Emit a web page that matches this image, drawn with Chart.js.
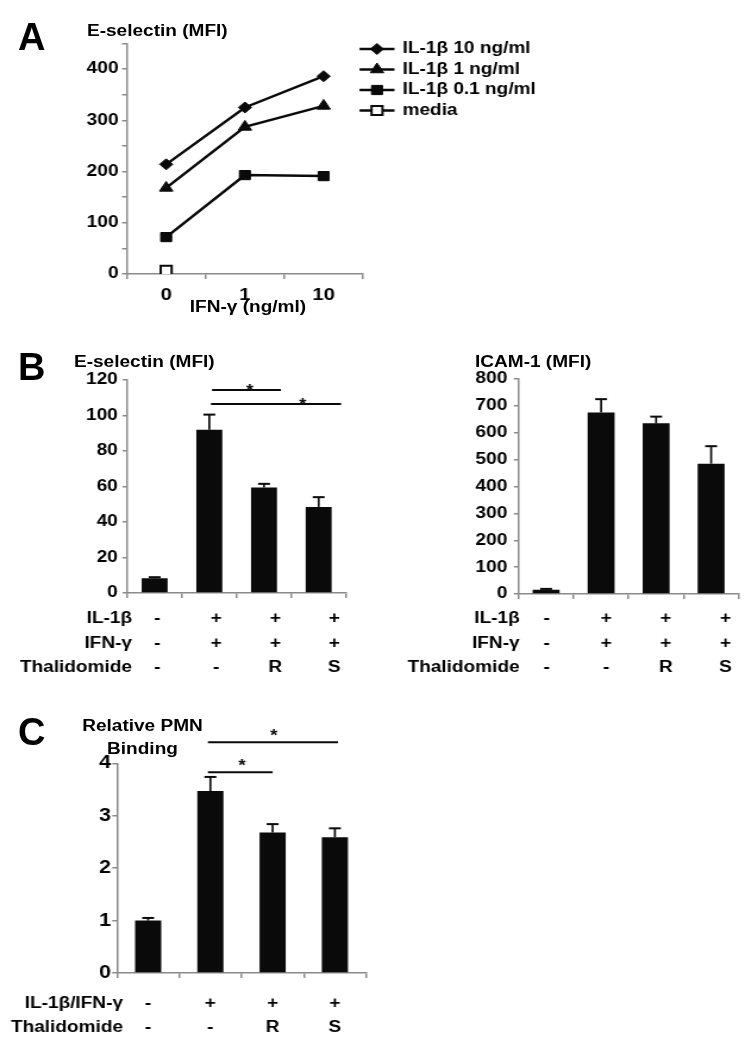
<!DOCTYPE html>
<html>
<head>
<meta charset="utf-8">
<title>E-selectin / ICAM-1 / PMN binding</title>
<script src="https://cdn.jsdelivr.net/npm/chart.js@4.4.1/dist/chart.umd.min.js"></script>
<style>
  html, body { margin: 0; padding: 0; background: #fff; }
  body { width: 751px; height: 1050px; position: relative; overflow: hidden;
         font-family: 'Liberation Sans', Arial, sans-serif; font-weight: bold; color: #000; }
  #stage { position: absolute; left: 0; top: 0; height: 1050px; transform-origin: 0 0; }
  #stage canvas { position: absolute; }
  .lbl { position: absolute; font-size: 16px; line-height: 16px; white-space: nowrap; }
  .panel { position: absolute; left: 18px; font-size: 38px; line-height: 38px; }
</style>
</head>
<body>
<div id="stage"></div>
<div class="panel" style="top:18px">A</div>
<div class="panel" style="top:348px">B</div>
<div class="panel" style="top:713px">C</div>
<script>
/* ---- data ---- */
const ifnDoses = ['0', '1', '10'];
const il1b10   = [214, 325, 386];
const il1b1    = [168, 287, 328];
const il1b01   = [72, 193, 191];
const mediaA   = [7, null, null];

const groups   = ['control', 'IL-1b+IFN-g', 'IL-1b+IFN-g+R', 'IL-1b+IFN-g+S'];
const eselMean = [8.3, 92, 59.5, 48.5];
const eselErr  = [0.6, 8.5, 2, 5.5];
const icamMean = [16, 675, 635, 485];
const icamErr  = [3, 50, 25, 65];
const pmnMean  = [1.0, 3.47, 2.68, 2.59];
const pmnErr   = [0.05, 0.27, 0.16, 0.17];

const rowIL1b  = ['-', '+', '+', '+'];
const rowIFNg  = ['-', '+', '+', '+'];
const rowCombo = ['-', '+', '+', '+'];
const rowThal  = ['-', '-', 'R', 'S'];

// significance brackets: [from group, to group, level, star at]
const eselSig = [[1.05, 2.31, 114.4, 1.74], [1.03, 3.41, 106.5, 2.71]];
const pmnSig  = [[0.96, 3.05, 4.4, 2.02], [0.96, 2.0, 3.83, 1.51]];

/* ---- setup ---- */
const S = 1.19;            // the original figure is stretched sideways
const AXIS = '#8a8a8a';
const INK = '#0a0a0a';

Chart.defaults.font.family = "'Liberation Sans', Arial, sans-serif";
Chart.defaults.font.size = 16;
Chart.defaults.font.weight = 'bold';
Chart.defaults.color = '#000';

const stage = document.getElementById('stage');
stage.style.width = (751 / S) + 'px';
stage.style.transform = 'scaleX(' + S + ')';

function addCanvas(left, top, width, height) {
  const c = document.createElement('canvas');
  c.width = Math.round(width / S);
  c.height = height;
  c.style.left = (left / S) + 'px';
  c.style.top = top + 'px';
  c.style.width = c.width + 'px';
  c.style.height = height + 'px';
  stage.appendChild(c);
  return c;
}

function addLabel(text, x, y, align) {
  const d = document.createElement('div');
  d.className = 'lbl';
  d.textContent = text;
  d.style.left = (x / S) + 'px';
  d.style.top = y + 'px';
  d.style.transform = align === 'center' ? 'translate(-50%,-50%)' : 'translateY(-50%)';
  stage.appendChild(d);
}

function yAxis(max, step, width, pad, size, cb) {
  const ax = {
    min: 0, max,
    border: { color: AXIS, width: 1.5 },
    grid: { drawOnChartArea: false, tickLength: 4, color: AXIS, lineWidth: 1.5 },
    ticks: { stepSize: step, padding: pad, font: { size } },
    afterFit: s => { s.width = width; }
  };
  if (cb) ax.ticks.callback = cb;
  return ax;
}

function xAxis(height, ticks) {
  return {
    offset: true,
    border: { color: AXIS, width: 1.5 },
    grid: { offset: true, drawOnChartArea: false, tickLength: 5, color: AXIS, lineWidth: 1.5 },
    ticks: ticks || { display: false },
    afterFit: s => { s.height = height; }
  };
}

const errorBars = errs => ({
  id: 'errorBars',
  afterDatasetsDraw(chart) {
    const { ctx, scales: { y } } = chart;
    const vals = chart.data.datasets[0].data;
    ctx.save();
    ctx.strokeStyle = INK;
    chart.getDatasetMeta(0).data.forEach((bar, i) => {
      const top = y.getPixelForValue(vals[i] + errs[i]);
      ctx.lineWidth = 1.7;
      ctx.beginPath(); ctx.moveTo(bar.x, bar.y); ctx.lineTo(bar.x, top); ctx.stroke();
      ctx.lineWidth = 2;
      ctx.beginPath(); ctx.moveTo(bar.x - 5, top); ctx.lineTo(bar.x + 5, top); ctx.stroke();
    });
    ctx.restore();
  }
});

const sigBars = (sig, starDy) => ({
  id: 'sigBars',
  afterDraw(chart) {
    const { ctx, scales: { x, y } } = chart;
    const x0 = x.getPixelForValue(0);
    const step = x.getPixelForValue(1) - x0;
    const px = v => x0 + v * step;
    ctx.save();
    ctx.strokeStyle = INK;
    ctx.fillStyle = INK;
    ctx.lineWidth = 2;
    ctx.font = "bold 16px 'Liberation Sans', Arial, sans-serif";
    ctx.textAlign = 'center';
    ctx.textBaseline = 'alphabetic';
    sig.forEach(([a, b, level, star]) => {
      const py = y.getPixelForValue(level);
      ctx.beginPath(); ctx.moveTo(px(a), py); ctx.lineTo(px(b), py); ctx.stroke();
      ctx.fillText('*', px(star), py + starDy);
    });
    ctx.restore();
  }
});

// condition table under the bars; canvasTop / canvasLeft in page pixels
const condTable = (rows, canvasLeft, canvasTop, headRight, colX) => ({
  id: 'condTable',
  afterDraw(chart) {
    const ctx = chart.ctx;
    ctx.save();
    ctx.fillStyle = '#000';
    ctx.font = "bold 16px 'Liberation Sans', Arial, sans-serif";
    ctx.textBaseline = 'middle';
    rows.forEach(([head, cells, y]) => {
      const cy = y - canvasTop;
      ctx.textAlign = 'right';
      ctx.fillText(head, (headRight - canvasLeft) / S, cy);
      ctx.textAlign = 'center';
      cells.forEach((c, i) => ctx.fillText(c, colX(chart, i), cy));
    });
    ctx.restore();
  }
});

function barChart(canvas, mean, err, opts, plugins) {
  return new Chart(canvas, {
    type: 'bar',
    data: {
      labels: groups,
      datasets: [{ data: mean, backgroundColor: INK, borderWidth: 0,
                   barPercentage: opts.barPct, categoryPercentage: 1 }]
    },
    options: {
      responsive: false,
      animation: false,
      layout: { padding: { left: 0, bottom: 0, top: opts.padTop, right: opts.padRight } },
      plugins: { legend: { display: false }, tooltip: { enabled: false } },
      scales: { x: xAxis(opts.xHeight), y: opts.y }
    },
    plugins: [errorBars(err)].concat(plugins)
  });
}

/* ---- panel A ---- */
const cA = addCanvas(60, 30, 560, 300);
const legendA = {
  id: 'legendA',
  afterDraw(chart) {
    const ctx = chart.ctx;
    const rowsY = [49, 69.5, 90, 110.5];
    ctx.save();
    ctx.font = "bold 16px 'Liberation Sans', Arial, sans-serif";
    ctx.textBaseline = 'middle';
    ctx.textAlign = 'left';
    chart.data.datasets.forEach((ds, i) => {
      const y = rowsY[i] - 30;
      const x1 = (360 - 60) / S, x2 = (395 - 60) / S, xm = (377.5 - 60) / S;
      ctx.strokeStyle = INK;
      ctx.lineWidth = 2.5;
      ctx.beginPath(); ctx.moveTo(x1, y); ctx.lineTo(x2, y); ctx.stroke();
      ctx.fillStyle = ds.pointBackgroundColor;
      ctx.strokeStyle = ds.pointBorderColor;
      ctx.lineWidth = ds.pointBorderWidth;
      Chart.helpers.drawPoint(ctx, { pointStyle: ds.pointStyle, radius: ds.pointRadius,
                                     rotation: 0, borderWidth: ds.pointBorderWidth }, xm, y);
      ctx.fillStyle = '#000';
      ctx.fillText(ds.label, (403 - 60) / S, y);
    });
    ctx.restore();
  }
};

new Chart(cA, {
  type: 'line',
  data: {
    labels: ifnDoses,
    datasets: [
      { label: 'IL-1β 10 ng/ml', data: il1b10, pointStyle: 'rectRot', pointRadius: 5.5 },
      { label: 'IL-1β 1 ng/ml', data: il1b1, pointStyle: 'triangle', pointRadius: 6.5 },
      { label: 'IL-1β 0.1 ng/ml', data: il1b01, pointStyle: 'rect', pointRadius: 6.5 },
      { label: 'media', data: mediaA, pointStyle: 'rect', pointRadius: 6.5,
        pointBackgroundColor: '#fff', pointBorderWidth: 2 }
    ].map(d => Object.assign({ borderColor: INK, borderWidth: 2.5, tension: 0,
                               pointBackgroundColor: INK, pointBorderColor: INK,
                               pointBorderWidth: 1 }, d))
  },
  options: {
    responsive: false,
    animation: false,
    layout: { padding: { left: 0, bottom: 0, top: 13.4, right: Math.round(560 / S) - (363.5 - 60) / S } },
    plugins: { legend: { display: false }, tooltip: { enabled: false } },
    scales: {
      x: xAxis(56, { padding: 6, font: { size: 17 } }),
      y: yAxis(450, 50, (127.3 - 60) / S, 3, 16, v => (v % 100 === 0 ? v : ''))
    }
  },
  plugins: [legendA]
});

addLabel('E-selectin (MFI)', 87, 30.5);
addLabel('IFN-γ (ng/ml)', 248, 307, 'center');

/* ---- panel B, E-selectin ---- */
const rowsB = (top) => [['IL-1β', rowIL1b, 619], ['IFN-γ', rowIFNg, 643.5], ['Thalidomide', rowThal, 668]];

const cBL = addCanvas(0, 360, 370, 320);
barChart(cBL, eselMean, eselErr, {
  barPct: 0.475, padTop: 20, padRight: Math.round(370 / S) - 346 / S, xHeight: 87,
  y: yAxis(120, 20, 127.3 / S, 4, 16)
}, [
  sigBars(eselSig, 6),
  condTable(rowsB(), 0, 360, 132, (ch, i) => ch.chartArea.left + (30 + i * 59) / S)
]);
addLabel('E-selectin (MFI)', 74, 362);

/* ---- panel B, ICAM-1 ---- */
const cBR = addCanvas(380, 360, 371, 320);
barChart(cBR, icamMean, icamErr, {
  barPct: 0.49, padTop: 19, padRight: Math.round(371 / S) - (739 - 380) / S, xHeight: 86,
  y: yAxis(800, 100, (519 - 380) / S, 5.5, 16)
}, [
  condTable(rowsB(), 380, 360, 520, (ch, i) => ch.chartArea.left + (28 + i * 59.6) / S)
]);
addLabel('ICAM-1 (MFI)', 475, 362);

/* ---- panel C ---- */
const cC = addCanvas(0, 710, 380, 340);
barChart(cC, pmnMean, pmnErr, {
  barPct: 0.42, padTop: 53.3, padRight: Math.round(380 / S) - 366 / S, xHeight: 77,
  y: yAxis(4, 1, 117 / S, 1, 18)
}, [
  sigBars(pmnSig, -1),
  condTable([['IL-1β/IFN-γ', rowCombo, 1004], ['Thalidomide', rowThal, 1028]], 0, 710, 123,
            (ch, i) => ch.scales.x.getPixelForValue(i))
]);
addLabel('Relative PMN', 142.5, 726, 'center');
addLabel('Binding', 142.5, 749, 'center');
</script>
</body>
</html>
